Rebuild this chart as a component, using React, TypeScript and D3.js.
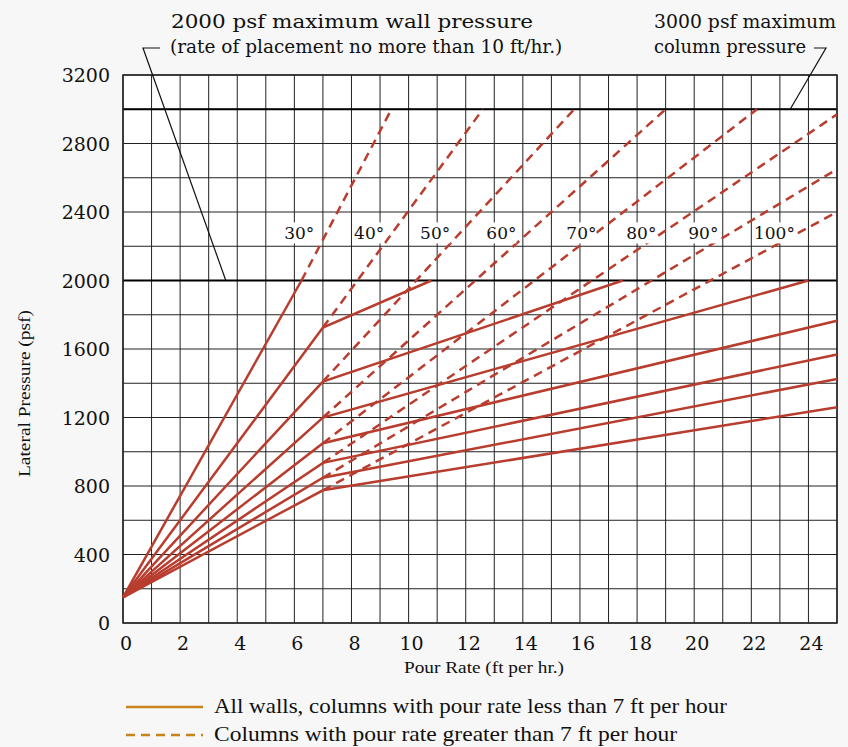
import React, { useEffect } from "react";
import * as d3 from "d3";

// pour-rate / lateral-pressure chart (ACI formwork)
const temperatures = ["30°", "40°", "50°", "60°", "70°", "80°", "90°", "100°"];
const startPressure = 150;
// point where the wall curve bends (or stops for 30°)
const kneeRate = [6.25, 7, 7, 7, 7, 7, 7, 7];
const kneePressure = [2000, 1725, 1410, 1200, 1050, 935, 848, 775];
// end of the solid wall line
const wallEndRate = [6.25, 10.8, 17.5, 24, 25, 25, 25, 25];
const wallEndPressure = [2000, 2000, 2000, 2000, 1765, 1568, 1425, 1260];
// end of the dashed column line
const columnEndRate = [9.4, 12.6, 15.8, 19, 22.2, 25, 25, 25];
const columnEndPressure = [3000, 3000, 3000, 3000, 3000, 2970, 2650, 2400];
// where each temperature label sits
const labelRate = [6.17, 8.62, 10.93, 13.25, 16.05, 18.15, 20.32, 22.81];
const labelPressure = [2275, 2275, 2275, 2275, 2275, 2275, 2275, 2275];

const xTicks = [0, 2, 4, 6, 8, 10, 12, 14, 16, 18, 20, 22, 24];
const yTicks = [0, 400, 800, 1200, 1600, 2000, 2400, 2800, 3200];
const limitLines = [2000, 3000];

const W = 848;
const H = 747;
const red = "#b83d2e";
const gold = "#c8831a";
const serif = "'DejaVu Serif', serif";
const times = "'Liberation Serif', serif";

export default function App() {
  useEffect(() => {
    document.body.style.margin = "0";
  }, []);

  const x = d3.scaleLinear().domain([0, 25]).range([123, 837]);
  const y = d3.scaleLinear().domain([0, 3200]).range([623, 75]);
  const line = d3
    .line<number[]>()
    .x((d) => x(d[0]))
    .y((d) => y(d[1]));

  const vGrid = d3.range(0, 26);
  const hGrid = d3.range(0, 3201, 200);

  return (
    <svg width={W} height={H} style={{ display: "block" }}>
      <rect width={W} height={H} fill="#f7f7f7" />
      <rect x={x(0)} y={y(3200)} width={x(25) - x(0)} height={y(0) - y(3200)} fill="#fff" />

      {/* grid */}
      {vGrid.map((v) => (
        <line key={"v" + v} x1={x(v)} x2={x(v)} y1={y(0)} y2={y(3200)} stroke="#222" strokeWidth={1} />
      ))}
      {hGrid.map((v) => (
        <line key={"h" + v} x1={x(0)} x2={x(25)} y1={y(v)} y2={y(v)} stroke="#222" strokeWidth={1} />
      ))}
      {limitLines.map((v) => (
        <line key={"l" + v} x1={x(0)} x2={x(25)} y1={y(v)} y2={y(v)} stroke="#000" strokeWidth={2} />
      ))}
      <rect x={x(0)} y={y(3200)} width={x(25) - x(0)} height={y(0) - y(3200)} fill="none" stroke="#222" strokeWidth={1.5} />

      {/* curves */}
      {temperatures.map((t, i) => (
        <g key={t}>
          <path
            d={line([
              [0, startPressure],
              [kneeRate[i], kneePressure[i]],
              [wallEndRate[i], wallEndPressure[i]],
            ]) as string}
            fill="none"
            stroke={red}
            strokeWidth={2.5}
          />
          <path
            d={line([
              [kneeRate[i], kneePressure[i]],
              [columnEndRate[i], columnEndPressure[i]],
            ]) as string}
            fill="none"
            stroke={red}
            strokeWidth={2.5}
            strokeDasharray="9,6"
          />
        </g>
      ))}

      {/* temperature labels */}
      {temperatures.map((t, i) => (
        <g key={"lab" + t}>
          <rect x={x(labelRate[i]) - (t.length > 3 ? 20 : 15)} y={y(labelPressure[i]) - 11} width={t.length > 3 ? 40 : 30} height={21} fill="#fff" />
          <text x={x(labelRate[i])} y={y(labelPressure[i]) + 6} textAnchor="middle" fontFamily={serif} fontSize={17} fill="#111">
            {t}
          </text>
        </g>
      ))}

      {/* axes labels */}
      {xTicks.map((v) => (
        <text key={"xt" + v} x={x(v) + 3} y={650} textAnchor="middle" fontFamily={serif} fontSize={19} fill="#111">
          {v}
        </text>
      ))}
      {yTicks.map((v) => (
        <text key={"yt" + v} x={110} y={y(v) + 7} textAnchor="end" fontFamily={serif} fontSize={19} fill="#111">
          {v}
        </text>
      ))}
      <text x={404} y={673} textLength={160} lengthAdjust="spacingAndGlyphs" fontFamily={times} fontSize={17} fill="#111">
        Pour Rate (ft per hr.)
      </text>
      <text transform={`translate(30,477) rotate(-90)`} textLength={167} lengthAdjust="spacingAndGlyphs" fontFamily={times} fontSize={17} fill="#111">
        Lateral Pressure (psf)
      </text>

      {/* annotations */}
      <text x={171} y={28} textLength={362} lengthAdjust="spacingAndGlyphs" fontFamily={serif} fontSize={19} fill="#111">
        2000 psf maximum wall pressure
      </text>
      <text x={170} y={53} fontFamily={serif} fontSize={18.5} fill="#111">
        (rate of placement no more than 10 ft/hr.)
      </text>
      <polyline points={`160,48 143,48 ${x(3.6)},${y(2000)}`} fill="none" stroke="#111" strokeWidth={1.2} />
      <text x={654} y={28} textLength={182} lengthAdjust="spacingAndGlyphs" fontFamily={serif} fontSize={19} fill="#111">
        3000 psf maximum
      </text>
      <text x={654} y={53} textLength={152} lengthAdjust="spacingAndGlyphs" fontFamily={serif} fontSize={19} fill="#111">
        column pressure
      </text>
      <polyline points={`814,48 826,48 ${x(23.36)},${y(3000)}`} fill="none" stroke="#111" strokeWidth={1.2} />

      {/* legend */}
      <line x1={126} x2={203} y1={707} y2={707} stroke={gold} strokeWidth={2.5} />
      <text x={214} y={713} textLength={513} lengthAdjust="spacingAndGlyphs" fontFamily={times} fontSize={21} fill="#111">
        All walls, columns with pour rate less than 7 ft per hour
      </text>
      <line x1={126} x2={203} y1={735} y2={735} stroke={gold} strokeWidth={2.5} strokeDasharray="9,6" />
      <text x={214} y={741} textLength={463} lengthAdjust="spacingAndGlyphs" fontFamily={times} fontSize={21} fill="#111">
        Columns with pour rate greater than 7 ft per hour
      </text>
    </svg>
  );
}
